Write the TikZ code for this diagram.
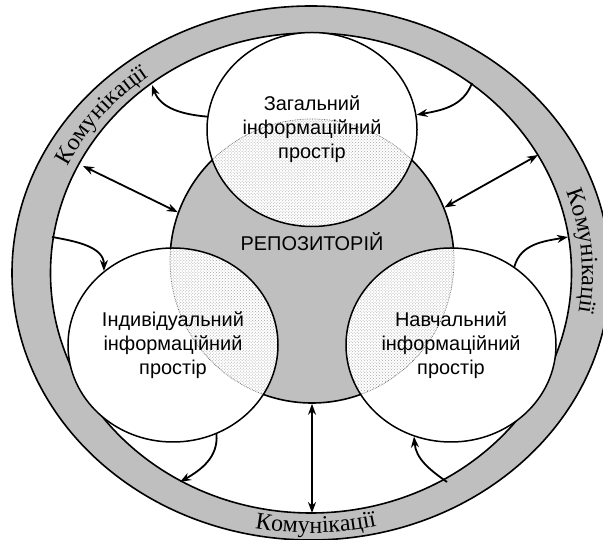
\documentclass[tikz,border=0pt]{standalone}
\usepackage{fontspec}
\setmainfont{Liberation Serif}
\setsansfont{Liberation Sans}
\usetikzlibrary{shapes.geometric,arrows.meta,decorations.text,patterns,calc}

\tikzset{
  infospace/.style={ellipse, draw, line width=1.5bp, minimum width=210bp, minimum height=194bp,
    inner sep=0pt, align=center, font=\sffamily\fontsize{20}{24}\selectfont},
  link/.style={line width=1.8bp, ->},
  twoway/.style={line width=1.8bp, <->},
  ringtext/.style={decorate, decoration={text along path, text align=center,
    text={|\fontsize{24}{24}\selectfont|Комунікації}}}
}

\begin{document}
\begin{tikzpicture}[x=1bp, y=1bp, >={Stealth[length=11bp,width=8bp]}]
  \useasboundingbox (0,0) rectangle (603,540);
  \coordinate (mid) at (311,267);
  % communications ring
  \fill[black!25, even odd rule] (mid) ellipse [x radius=299, y radius=267]
    (mid) ellipse [x radius=260.5, y radius=240];
  \draw[line width=1.6bp] (mid) ellipse [x radius=299, y radius=267];
  \draw[line width=1.6bp] (mid) ellipse [x radius=260.5, y radius=240];
  \path[ringtext] ($(mid)+(172:271 and 245)$) arc [start angle=172, end angle=110, x radius=271, y radius=245];
  \path[ringtext] ($(mid)+(36:271 and 245)$) arc [start angle=36, end angle=-26, x radius=271, y radius=245];
  \path[ringtext] ($(mid)+(240:288 and 260)$) arc [start angle=240, end angle=302, x radius=288, y radius=260];

  \node[circle, draw, fill=black!25, line width=1.6bp, minimum size=284bp, inner sep=0pt] (repo) at (312,279) {};

  % overlaps of the spaces with the repository
  \foreach \x/\y in {312/410.5, 173/195, 451/195} {
    \fill[white] (\x,\y) ellipse [x radius=105, y radius=97];
    \begin{scope}
      \clip (\x,\y) ellipse [x radius=105, y radius=97];
      \fill[pattern=crosshatch dots, pattern color=black!35] (repo.center) circle [radius=142];
      \draw[densely dotted, black!60, line width=0.7bp] (repo.center) circle [radius=142];
    \end{scope}
  }

  \node[infospace] (top) at (312,410.5) {Загальний\\інформаційний\\простір};
  \node[infospace] (left) at (173,195) {Індивідуальний\\інформаційний\\простір};
  \node[infospace] (right) at (451,195) {Навчальний\\інформаційний\\простір};
  \node[font=\sffamily\fontsize{20}{24}\selectfont] (repotext) at (312,298) {РЕПОЗИТОРІЙ};

  \coordinate (r1) at (152,455);
  \coordinate (r2) at (472,457);
  \coordinate (r3) at (83,374);
  \coordinate (r4) at (538,385);
  \coordinate (r5) at (52,303);
  \coordinate (r6) at (568,303);
  \coordinate (r7) at (180,58);
  \coordinate (r8) at (447,58);
  \coordinate (r9) at (312,27);

  \draw[link] (top.173) to[out=175, in=-70] (r1);
  \draw[link] (r2) to[out=-110, in=10] (top.8);
  \draw[twoway] (r3) -- (repo.160);
  \draw[twoway] (repo.22) -- (r4);
  \draw[link] (r5) to[out=-10, in=90] (left.133);
  \draw[link] (right.51) to[out=75, in=190] (r6);
  \draw[link] (left.-64) to[out=-85, in=30] (r7);
  \draw[link] (r8) to[out=145, in=-85] (right.-112);
  \draw[twoway] (repo.south) -- (r9);
\end{tikzpicture}
\end{document}
